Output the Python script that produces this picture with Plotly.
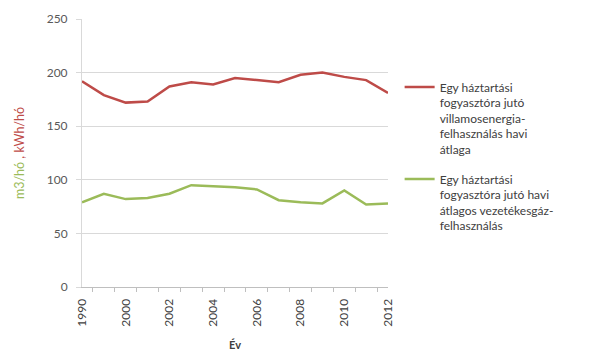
import plotly.graph_objects as go

# Years on the category axis (only every other one is labelled)
years = ["1990", "1995", "2000", "2001", "2002", "2003", "2004", "2005",
         "2006", "2007", "2008", "2009", "2010", "2011", "2012"]
tick_labels = ["1990", "", "2000", "", "2002", "", "2004", "", "2006", "",
               "2008", "", "2010", "", "2012"]

# Monthly average electricity use per household consumer (kWh/hó)
electricity = [192, 179, 172, 173, 187, 191, 189, 195, 193, 191, 198, 200, 196, 193, 181]
# Monthly average piped-gas use per household consumer (m3/hó)
gas = [79, 87, 82, 83, 87, 95, 94, 93, 91, 81, 79, 78, 90, 77, 78]

RED = "#be4b48"
GREEN = "#9bbb59"
FONT = "Lato, Open Sans, sans-serif"

fig = go.Figure()
fig.add_trace(go.Scatter(
    x=years, y=electricity, mode="lines",
    line=dict(color=RED, width=2.5),
    name="Egy háztartási<br>fogyasztóra jutó<br>villamosenergia-<br>felhasználás havi<br>átlaga",
    legendgroup="a",
))
fig.add_trace(go.Scatter(
    x=years, y=gas, mode="lines",
    line=dict(color=GREEN, width=2.5),
    name="Egy háztartási<br>fogyasztóra jutó havi<br>átlagos vezetékesgáz-<br>felhasználás",
    legendgroup="b",
))

fig.update_layout(
    width=611, height=358,
    margin=dict(l=82, r=223, t=19, b=71),
    paper_bgcolor="white", plot_bgcolor="white",
    font=dict(family=FONT, size=12, color="#595959"),
    showlegend=True,
    legend=dict(
        x=1.038, xanchor="left", y=0.80, yanchor="top",
        valign="top", tracegroupgap=11,
        font=dict(family=FONT, size=12, color="#404040"),
        itemwidth=30,
    ),
    xaxis=dict(
        type="category", automargin=False,
        tickmode="array", tickvals=years, ticktext=tick_labels,
        tickson="boundaries", ticks="outside", ticklen=4,
        tickcolor="#bfbfbf", tickangle=-90,
        ticklabelstandoff=6,
        showline=True, linecolor="#bfbfbf", linewidth=1,
        showgrid=False,
        tickfont=dict(size=12, color="#404040"),
        title=dict(text="<b>Év</b>", font=dict(size=11, color="#404040"), standoff=15),
    ),
    yaxis=dict(
        range=[0, 250], tickvals=[0, 50, 100, 150, 200, 250],
        automargin=False,
        showgrid=True, gridcolor="#d9d9d9", gridwidth=1,
        ticks="outside", ticklen=5, tickcolor="#d9d9d9",
        ticklabelstandoff=6,
        showline=True, linecolor="#d9d9d9", linewidth=1,
        zeroline=False,
        tickfont=dict(size=12, color="#595959"),
        title=dict(
            text=f"<span style='color:{GREEN}'>m3/hó</span>"
                 f"<span style='color:{RED}'> , kWh/hó</span>",
            font=dict(size=12.5), standoff=19,
        ),
    ),
)

fig.write_html("out.html")
